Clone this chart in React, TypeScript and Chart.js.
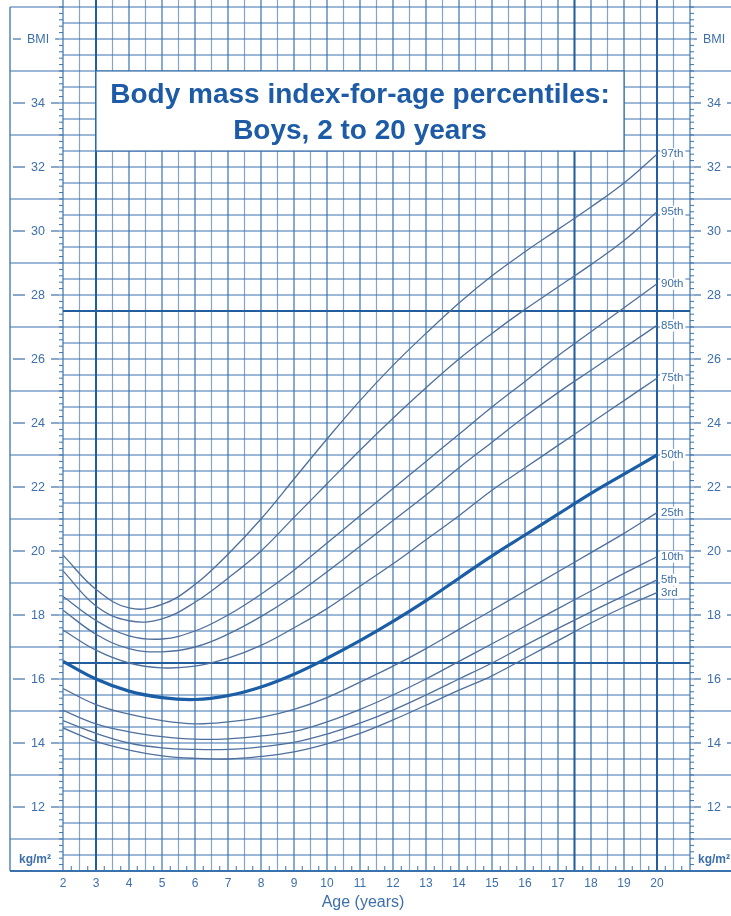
import React, { useEffect, useRef } from 'react';
import { Chart, registerables } from 'chart.js';

Chart.register(...registerables);

// ---- data ----
const ages = [2, 3, 4, 5, 6, 7, 8, 9, 10, 11, 12, 13, 14, 15, 16, 17, 18, 19, 20];
const p97 = [19.87, 18.8, 18.22, 18.33, 18.95, 19.9, 21.0, 22.25, 23.5, 24.7, 25.8, 26.8, 27.75, 28.6, 29.35, 30.05, 30.75, 31.5, 32.4];
const p95 = [19.38, 18.28, 17.82, 17.88, 18.4, 19.15, 20.0, 21.05, 22.1, 23.15, 24.15, 25.1, 26.0, 26.8, 27.55, 28.25, 28.95, 29.7, 30.6];
const p90 = [18.58, 17.83, 17.35, 17.25, 17.5, 18.0, 18.65, 19.4, 20.25, 21.1, 21.95, 22.8, 23.65, 24.5, 25.3, 26.1, 26.85, 27.6, 28.35];
const p85 = [18.15, 17.4, 16.95, 16.85, 17.0, 17.4, 17.95, 18.6, 19.35, 20.15, 20.95, 21.75, 22.6, 23.4, 24.2, 24.95, 25.65, 26.35, 27.05];
const p75 = [17.53, 16.9, 16.5, 16.35, 16.4, 16.65, 17.05, 17.6, 18.2, 18.9, 19.6, 20.35, 21.1, 21.9, 22.6, 23.3, 24.0, 24.7, 25.4];
const p50 = [16.55, 16.0, 15.62, 15.42, 15.36, 15.48, 15.75, 16.15, 16.65, 17.2, 17.8, 18.45, 19.15, 19.85, 20.5, 21.15, 21.8, 22.4, 23.0];
const p25 = [15.7, 15.2, 14.9, 14.7, 14.6, 14.66, 14.8, 15.05, 15.42, 15.9, 16.4, 16.95, 17.55, 18.15, 18.75, 19.35, 19.95, 20.55, 21.2];
const p10 = [15.02, 14.6, 14.35, 14.2, 14.12, 14.13, 14.22, 14.36, 14.66, 15.05, 15.5, 16.0, 16.55, 17.1, 17.65, 18.2, 18.75, 19.3, 19.82];
const p5 = [14.7, 14.3, 14.0, 13.85, 13.8, 13.8, 13.88, 14.02, 14.28, 14.62, 15.03, 15.5, 16.0, 16.5, 17.05, 17.58, 18.1, 18.6, 19.1];
const p3 = [14.47, 14.05, 13.78, 13.6, 13.52, 13.5, 13.58, 13.72, 13.97, 14.3, 14.72, 15.18, 15.65, 16.1, 16.65, 17.2, 17.75, 18.25, 18.7];

const percentileNames = ['97th', '95th', '90th', '85th', '75th', '50th', '25th', '10th', '5th', '3rd'];
const percentileSeries = [p97, p95, p90, p85, p75, p50, p25, p10, p5, p3];

const ageTicks = [2, 3, 4, 5, 6, 7, 8, 9, 10, 11, 12, 13, 14, 15, 16, 17, 18, 19, 20];
const bmiTicks = [12, 14, 16, 18, 20, 22, 24, 26, 28, 30, 32, 34];

const titleLines = ['Body mass index-for-age percentiles:', 'Boys, 2 to 20 years'];
const xTitle = 'Age (years)';

// ---- styles ----
const FONT = "'Liberation Sans', Arial, Helvetica, sans-serif";
const INK = '#3d6fab';
const TITLE_INK = '#1d5ba6';
const GRID = '#3a72ad';
const LIGHT = '#86a4c7';
const HEAVY = '#225d9e';
const CURVE = '#4f6f9c';
const MEDIAN = '#1c5ea6';

const near = (a: number, b: number) => Math.abs(a - b) < 1e-6;

const framePlugin = {
  id: 'cdcFrame',
  beforeDatasetsDraw(chart: any) {
    const { ctx, scales } = chart;
    const X = (v: number) => scales.x.getPixelForValue(v);
    const Y = (v: number) => scales.y.getPixelForValue(v);
    const W = chart.width;
    const left = X(2);
    const right = X(21);
    const top = Y(37);
    const bottom = Y(10);
    const panelL = 10;

    const line = (x1: number, y1: number, x2: number, y2: number, color: string, w: number) => {
      ctx.beginPath();
      ctx.strokeStyle = color;
      ctx.lineWidth = w;
      ctx.moveTo(x1, y1);
      ctx.lineTo(x2, y2);
      ctx.stroke();
    };

    ctx.save();
    // light half-year verticals
    for (let a = 2.5; a < 21; a += 1) line(X(a), 0, X(a), bottom, LIGHT, 1.2);
    // horizontal grid every 0.5
    for (let b = 10; b <= 37.001; b += 0.5) {
      if (near(b, 16.5) || near(b, 27.5)) continue;
      line(left, Y(b), right, Y(b), GRID, 1.1);
    }
    // whole-year verticals
    for (let a = 2; a <= 21.001; a += 1) {
      if (near(a, 3) || near(a, 20)) continue;
      line(X(a), 0, X(a), bottom, GRID, 1.2);
    }
    // heavy lines
    [3, 17.5, 20].forEach((a) => line(X(a), 0, X(a), bottom, HEAVY, 2));
    [16.5, 27.5].forEach((b) => line(left, Y(b), right, Y(b), HEAVY, 2));

    // side panels: lines at odd BMI
    for (let b = 11; b <= 37; b += 2) {
      line(panelL, Y(b), left, Y(b), GRID, 1.1);
      line(right, Y(b), W, Y(b), GRID, 1.1);
    }
    line(panelL, top, panelL, bottom, GRID, 1.3);
    line(panelL, bottom, W, bottom, GRID, 1.8);

    // minor ticks on BMI axes (0.2)
    for (let i = 0; i <= 135; i++) {
      const b = 10 + i * 0.2;
      line(left - 4, Y(b), left, Y(b), GRID, 1);
      line(right, Y(b), right + 4, Y(b), GRID, 1);
    }
    // quarter-year ticks at bottom
    for (let a = 2.25; a < 21; a += 0.5) line(X(a), bottom - 5, X(a), bottom, GRID, 1);

    // title box
    const bx = X(3), by = Y(35), bw = X(19) - X(3), bh = Y(32.5) - Y(35);
    ctx.fillStyle = '#ffffff';
    ctx.fillRect(bx, by, bw, bh);
    ctx.strokeStyle = GRID;
    ctx.lineWidth = 1.2;
    ctx.strokeRect(bx, by, bw, bh);
    ctx.fillStyle = TITLE_INK;
    ctx.font = `bold 28px ${FONT}`;
    ctx.textAlign = 'center';
    ctx.textBaseline = 'alphabetic';
    ctx.fillText(titleLines[0], X(11), 103);
    ctx.fillText(titleLines[1], X(11), 139);

    // BMI labels in side panels
    ctx.fillStyle = INK;
    ctx.textBaseline = 'middle';
    ctx.font = `12.5px ${FONT}`;
    const sideLabel = (text: string, b: number) => {
      const yy = Y(b);
      ctx.fillText(text, 38, yy + 0.5);
      ctx.fillText(text, 714, yy + 0.5);
      const tw = ctx.measureText(text).width;
      line(13, yy, 38 - tw / 2 - 6, yy, INK, 1.2);
      line(38 + tw / 2 + 6, yy, left - 4, yy, INK, 1.2);
      line(right + 4, yy, 714 - tw / 2 - 6, yy, INK, 1.2);
      line(714 + tw / 2 + 6, yy, W, yy, INK, 1.2);
    };
    ctx.textAlign = 'center';
    bmiTicks.forEach((b) => sideLabel(String(b), b));
    sideLabel('BMI', 36);
    ctx.fillStyle = INK;
    ctx.font = `bold 12px ${FONT}`;
    ctx.fillText('kg/m²', 35, Y(10.35));
    ctx.fillText('kg/m²', 714, Y(10.35));

    // age labels
    ctx.font = `12px ${FONT}`;
    ctx.textBaseline = 'top';
    ageTicks.forEach((a) => ctx.fillText(String(a), X(a), bottom + 7));
    ctx.font = `16px ${FONT}`;
    ctx.textBaseline = 'middle';
    ctx.fillText(xTitle, X(11) + 3, 903);
    ctx.restore();
  },
  afterDatasetsDraw(chart: any) {
    const { ctx, scales } = chart;
    const X = (v: number) => scales.x.getPixelForValue(v);
    const Y = (v: number) => scales.y.getPixelForValue(v);
    ctx.save();
    ctx.font = `11.5px ${FONT}`;
    ctx.textAlign = 'left';
    ctx.textBaseline = 'middle';
    percentileSeries.forEach((s, i) => {
      const name = percentileNames[i];
      const yy = Y(s[s.length - 1]);
      const xx = X(20) + 4;
      const tw = ctx.measureText(name).width;
      ctx.fillStyle = '#ffffff';
      ctx.fillRect(xx - 1, yy - 6, tw + 3, 12);
      ctx.fillStyle = INK;
      ctx.fillText(name, xx, yy);
    });
    ctx.restore();
  },
};

export default function App() {
  const ref = useRef<HTMLCanvasElement | null>(null);
  useEffect(() => {
    if (!ref.current) return;
    const datasets = percentileSeries.map((s, i) => ({
      label: percentileNames[i],
      data: ages.map((a, j) => ({ x: a, y: s[j] })),
      borderColor: percentileNames[i] === '50th' ? MEDIAN : CURVE,
      borderWidth: percentileNames[i] === '50th' ? 3.2 : 1.3,
      pointRadius: 0,
      fill: false,
      tension: 0.4,
    }));
    const chart = new Chart(ref.current, {
      type: 'line',
      data: { datasets },
      options: {
        animation: false,
        responsive: false,
        maintainAspectRatio: false,
        layout: { padding: { left: 63, top: 7, right: 41, bottom: 45 } },
        scales: {
          x: { type: 'linear', min: 2, max: 21, display: false },
          y: { type: 'linear', min: 10, max: 37, display: false },
        },
        plugins: { legend: { display: false }, tooltip: { enabled: false } },
        events: [],
      },
      plugins: [framePlugin],
    });
    return () => chart.destroy();
  }, []);
  return (
    <div style={{ position: 'absolute', left: 0, top: 0, width: 731, height: 916, background: '#fff' }}>
      <canvas ref={ref} width={731} height={916} style={{ display: 'block' }} />
    </div>
  );
}
